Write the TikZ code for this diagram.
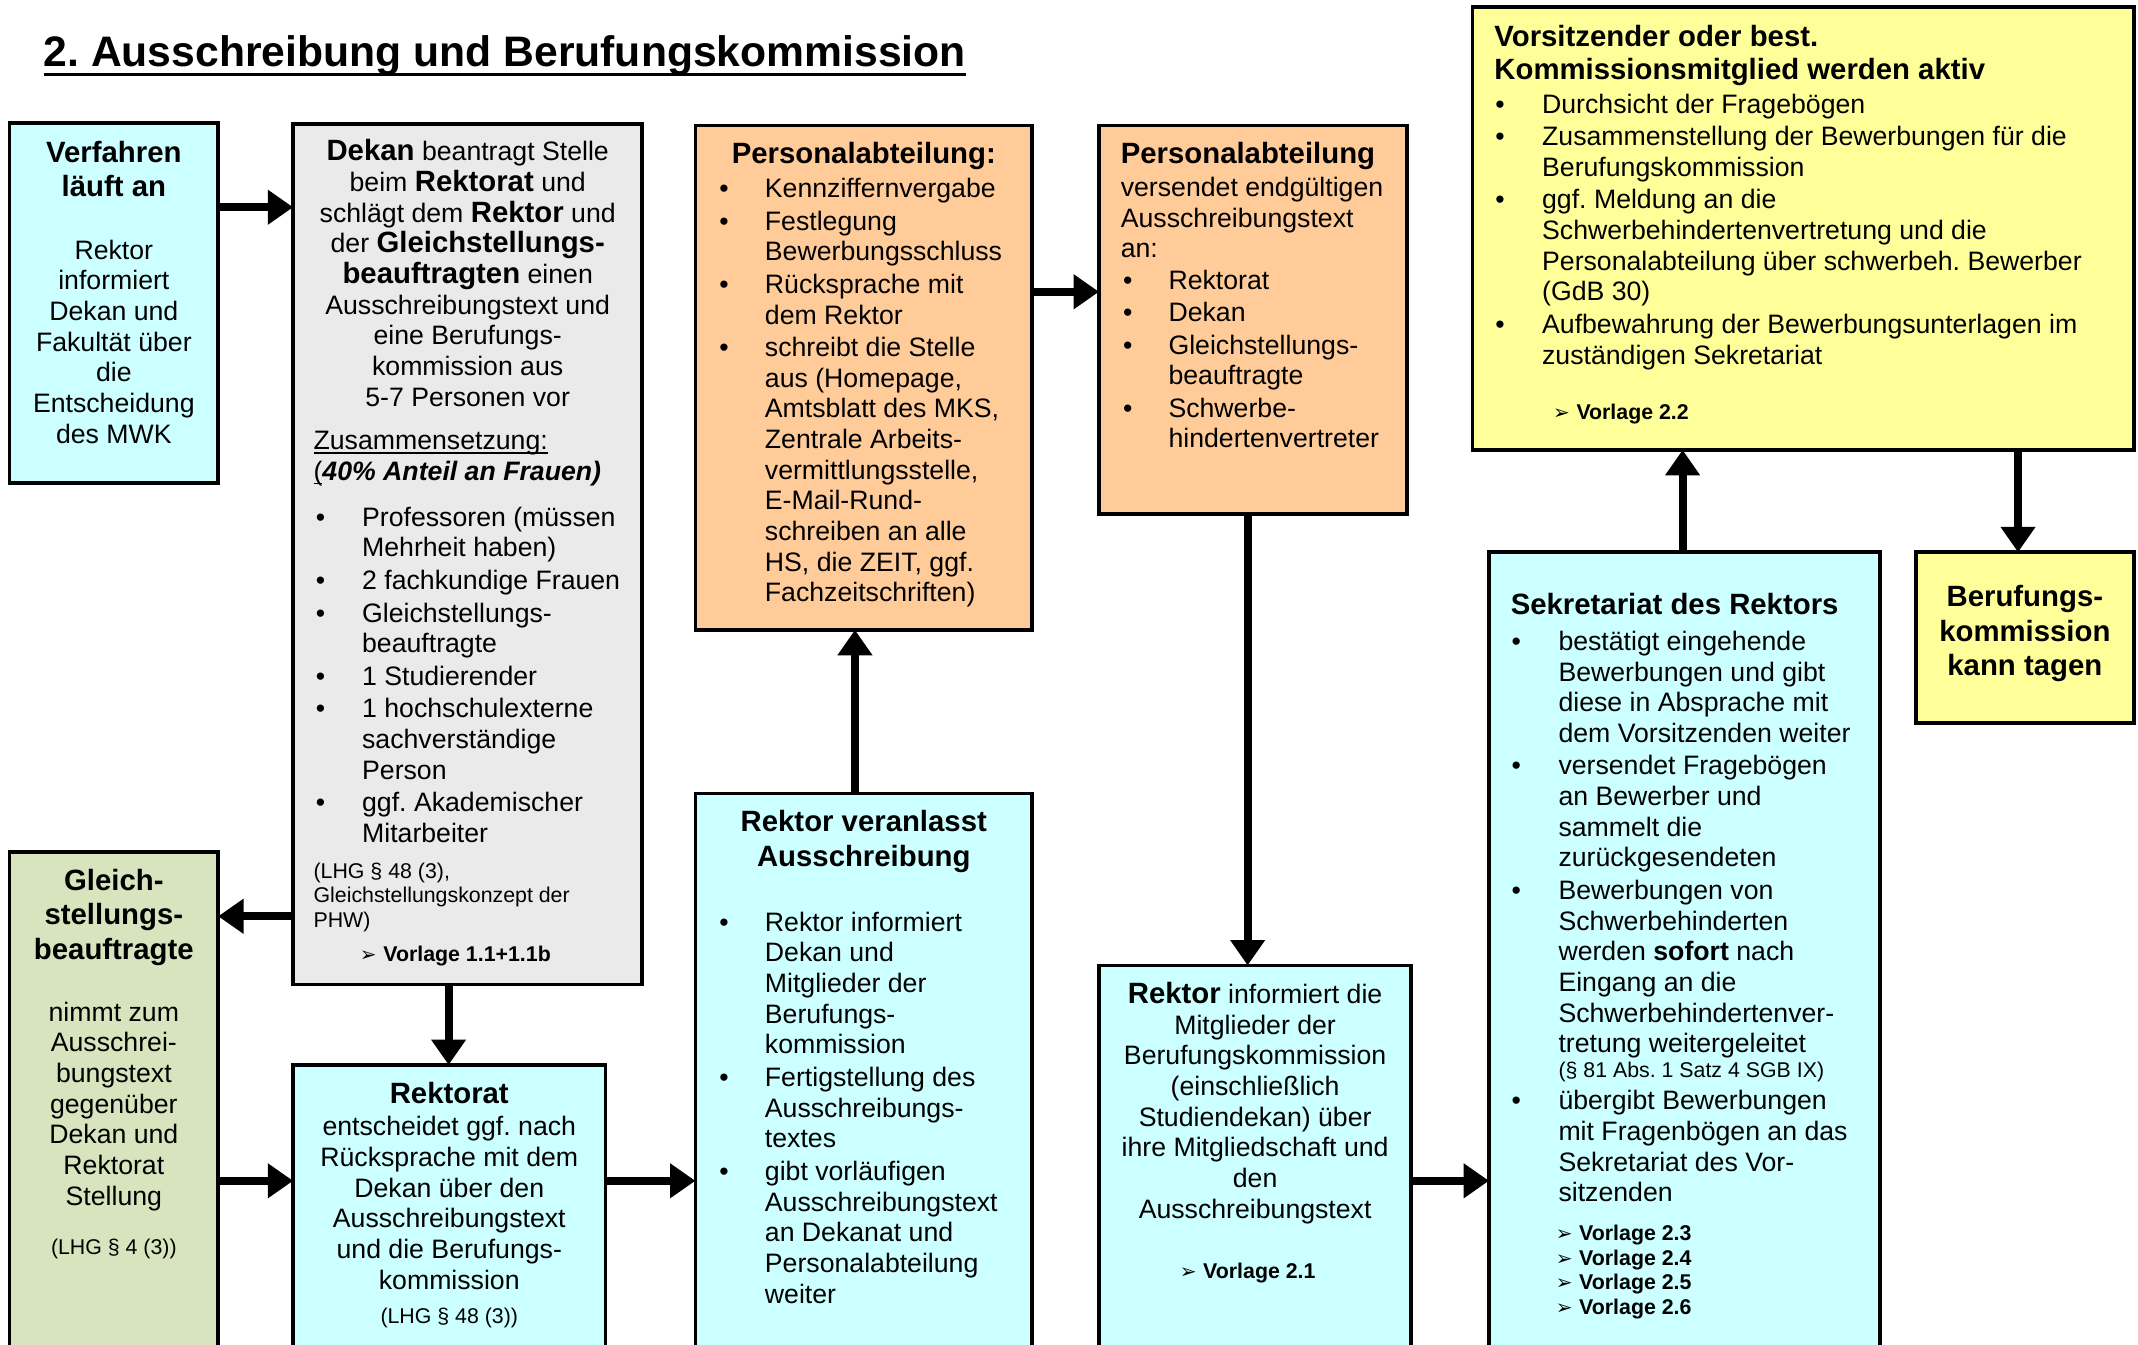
\documentclass[tikz,border=0pt]{standalone}
\usepackage{fontspec}
\setmainfont{Liberation Sans}
\newfontfamily\symfont{DejaVu Sans}
\usetikzlibrary{arrows.meta}
\frenchspacing

% one unit of the drawing grid
\newlength\upx \setlength\upx{0.51131pt}
\newlength\bind

\definecolor{cyanbg}{HTML}{CCFFFF}
\definecolor{graybg}{HTML}{EAEAEA}
\definecolor{orangebg}{HTML}{FFCC99}
\definecolor{greenbg}{HTML}{D7E4BD}
\definecolor{yellowbg}{HTML}{FFFF99}

\newcommand\fbody{\fontsize{10}{11.5}\selectfont}
\newcommand\fhead{\fontsize{11}{12.9}\selectfont\bfseries}
\newcommand\fsmall{\fontsize{8}{9.2}\selectfont}
\newcommand\vorl[1]{\leavevmode{\fsmall{\symfont\fontsize{7.5}{9.2}\selectfont ➢}\hspace{2.5pt}\textbf{Vorlage #1}}}
\newcommand\itm{\par\hangindent=\bind\hangafter=1\noindent\makebox[\bind][l]{•}\ignorespaces}
\newcommand\myul[1]{\leavevmode\setbox0\hbox{#1}\rlap{\rule[-1.4pt]{\wd0}{0.5pt}}\box0}

% left aligned block: width, content (\\ keeps the hanging indent of list items)
\newcommand\lblk[2]{\begin{minipage}[t]{#1\upx}\raggedright\let\\\newline\setlength\parskip{0.7pt}#2\end{minipage}}
% centred block
\newcommand\cblk[2]{\begin{minipage}[t]{#1\upx}\centering #2\end{minipage}}

% box node: name, fill, x1, y1, x2, y2
\newcommand\boxnode[6]{%
  \node[box, fill=#2, minimum width={(#5-#3)*\upx}, minimum height={(#6-#4)*\upx}]
    (#1) at (#3,#4) {};}

\tikzset{
  box/.style={draw=black, line width=1.4pt, rectangle, anchor=north west,
    inner sep=0pt, outer sep=0pt},
  txt/.style={inner sep=0pt, outer sep=0pt, text=black},
  arr/.style={line width=3pt, -{Triangle[length=9.5pt,width=12.5pt]}},
}

\begin{document}
\begin{tikzpicture}[x=0.51131pt, y=-0.51131pt]
\useasboundingbox (0,0) rectangle (1568,986);
\clip (0,0) rectangle (1568,986);

% title
\node[txt, anchor=base west] (title) at (32,49)
  {\fontsize{16}{19}\selectfont\bfseries 2. Ausschreibung und Berufungskommission};
\draw[line width=1.1pt] ([yshift=-2.9pt]title.base west) -- ([yshift=-2.9pt]title.base east);

% boxes
\boxnode{V}{cyanbg}{7}{90}{160}{354}
\boxnode{D}{graybg}{215}{91}{471}{722}
\boxnode{G}{greenbg}{7}{625}{160}{1000}
\boxnode{R}{cyanbg}{215}{781}{444}{1000}
\boxnode{P1}{orangebg}{510}{92}{757}{462}
\boxnode{RV}{cyanbg}{510}{582}{757}{1000}
\boxnode{P2}{orangebg}{806}{92}{1032}{377}
\boxnode{RI}{cyanbg}{806}{708}{1035}{1000}
\boxnode{S}{cyanbg}{1092}{405}{1379}{1000}
\boxnode{VO}{yellowbg}{1080}{5}{1565}{330}
\boxnode{BK}{yellowbg}{1405}{405}{1565}{530}

% connectors
\draw[arr] (V.east |- 0,152) -- (D.west |- 0,152);
\draw[arr] (D.west |- 0,672) -- (G.east |- 0,672);
\draw[arr] (D.south -| 329,0) -- (R.north -| 329,0);
\draw[arr] (G.east |- 0,866) -- (R.west |- 0,866);
\draw[arr] (R.east |- 0,866) -- (RV.west |- 0,866);
\draw[arr] (RV.north -| 627,0) -- (P1.south -| 627,0);
\draw[arr] (P1.east |- 0,214) -- (P2.west |- 0,214);
\draw[arr] (P2.south -| 915,0) -- (RI.north -| 915,0);
\draw[arr] (RI.east |- 0,866) -- (S.west |- 0,866);
\draw[arr] (S.north -| 1234,0) -- (VO.south -| 1234,0);
\draw[arr] (VO.south -| 1480,0) -- (BK.north -| 1480,0);

% Verfahren laeuft an
\node[txt, anchor=base] (tV1) at (83.5,119) {\cblk{150}{\fhead Verfahren\\läuft an}};
\node[txt, anchor=base] (tV2) at (83.5,190) {\cblk{150}{\fbody Rektor\\informiert\\Dekan und\\Fakultät über\\die\\Entscheidung\\des MWK}};

% Dekan
\node[txt, anchor=base] (tD1) at (343,118) {\cblk{250}{\fbody
  {\fhead Dekan} beantragt Stelle\\beim {\fhead Rektorat} und\\schlägt dem {\fhead Rektor} und\\
  der {\fhead Gleichstellungs-}\\{\fhead beauftragten} einen\\Ausschreibungstext und\\
  eine Berufungs-\\kommission aus\\5-7 Personen vor}};
\node[txt, anchor=base west] (tD2) at (230,330) {\lblk{230}{\fbody
  \myul{Zusammensetzung:}\\\myul{(}\textbf{\textit{40\% Anteil an Frauen)}}}};
\setlength\bind{34\upx}
\node[txt, anchor=base west] (tD3) at (231.6,386) {\lblk{238}{\fbody
  \itm Professoren (müssen\\Mehrheit haben)
  \itm 2 fachkundige Frauen
  \itm Gleichstellungs-\\beauftragte
  \itm 1 Studierender
  \itm 1 hochschulexterne\\sachverständige\\Person
  \itm ggf. Akademischer\\Mitarbeiter}};
\node[txt, anchor=base west] (tD4) at (230,644) {\lblk{235}{\fsmall
  (LHG § 48 (3),\\Gleichstellungskonzept der\\PHW)}};
\node[txt, anchor=base west] (tD5) at (264,705) {\vorl{1.1+1.1b}};

% Gleichstellungsbeauftragte
\node[txt, anchor=base] (tG1) at (83.5,653) {\cblk{150}{\fhead Gleich-\\stellungs-\\beauftragte}};
\node[txt, anchor=base] (tG2) at (83.5,749) {\cblk{150}{\fbody nimmt zum\\Ausschrei-\\bungstext\\gegenüber\\Dekan und\\Rektorat\\Stellung}};
\node[txt, anchor=base] (tG3) at (83.5,920) {\fsmall (LHG § 4 (3))};

% Rektorat
\node[txt, anchor=base] (tR1) at (329.5,809) {\fhead Rektorat};
\node[txt, anchor=base] (tR2) at (329.5,833) {\cblk{225}{\fbody entscheidet ggf. nach\\Rücksprache mit dem\\Dekan über den\\Ausschreibungstext\\und die Berufungs-\\kommission}};
\node[txt, anchor=base] (tR3) at (329.5,971) {\fsmall (LHG § 48 (3))};

% Personalabteilung (1)
\node[txt, anchor=base] (tP1a) at (633.5,120) {\fhead Personalabteilung:};
\setlength\bind{33.4\upx}
\node[txt, anchor=base west] (tP1b) at (527.6,145) {\lblk{228}{\fbody
  \itm Kennziffernvergabe
  \itm Festlegung\\Bewerbungsschluss
  \itm Rücksprache mit\\dem Rektor
  \itm schreibt die Stelle\\aus (Homepage,\\Amtsblatt des MKS,\\Zentrale Arbeits-\\vermittlungsstelle,\\E-Mail-Rund-\\schreiben an alle\\HS, die ZEIT, ggf.\\Fachzeitschriften)}};

% Rektor veranlasst Ausschreibung
\node[txt, anchor=base] (tRV1) at (633.5,610) {\cblk{240}{\fhead Rektor veranlasst\\Ausschreibung}};
\node[txt, anchor=base west] (tRV2) at (527.6,683) {\lblk{228}{\fbody
  \itm Rektor informiert\\Dekan und\\Mitglieder der\\Berufungs-\\kommission
  \itm Fertigstellung des\\Ausschreibungs-\\textes
  \itm gibt vorläufigen\\Ausschreibungstext\\an Dekanat und\\Personalabteilung\\weiter}};

% Personalabteilung (2)
\node[txt, anchor=base west] (tP2a) at (822,120) {\fhead Personalabteilung};
\node[txt, anchor=base west] (tP2b) at (822,144) {\lblk{210}{\fbody
  versendet endgültigen\\Ausschreibungstext\\an:}};
\setlength\bind{33.4\upx}
\node[txt, anchor=base west] (tP2c) at (823.6,212) {\lblk{205}{\fbody
  \itm Rektorat
  \itm Dekan
  \itm Gleichstellungs-\\beauftragte
  \itm Schwerbe-\\hindertenvertreter}};

% Rektor informiert
\node[txt, anchor=base] (tRI1) at (920.5,736) {\cblk{225}{\fbody
  {\fhead Rektor} informiert die\\Mitglieder der\\Berufungskommission\\(einschließlich\\
  Studiendekan) über\\ihre Mitgliedschaft und\\den\\Ausschreibungstext}};
\node[txt, anchor=base] (tRI2) at (915,938) {\vorl{2.1}};

% Sekretariat des Rektors
\node[txt, anchor=base west] (tS1) at (1108,451) {\fhead Sekretariat des Rektors};
\setlength\bind{34.4\upx}
\node[txt, anchor=base west] (tS2) at (1108.6,477) {\lblk{265}{\fbody
  \itm bestätigt eingehende\\Bewerbungen und gibt\\diese in Absprache mit\\dem Vorsitzenden weiter
  \itm versendet Fragebögen\\an Bewerber und\\sammelt die\\zurückgesendeten
  \itm Bewerbungen von\\Schwerbehinderten\\werden \textbf{sofort} nach\\Eingang an die\\
    Schwerbehindertenver-\\tretung weitergeleitet\vadjust{\vskip-2.3pt}\\{\fsmall(§ 81 Abs. 1 Satz 4 SGB IX)}
  \itm übergibt Bewerbungen\\mit Fragenbögen an das\\Sekretariat des Vor-\\sitzenden}};
\node[txt, anchor=base west] (tS3) at (1141,910) {\lblk{150}{\fsmall
  \vorl{2.3}\\\vorl{2.4}\\\vorl{2.5}\\\vorl{2.6}}};

% Vorsitzender
\node[txt, anchor=base west] (tVO1) at (1096,34) {\lblk{460}{\fontsize{11}{12.4}\selectfont\bfseries
  Vorsitzender oder best.\\Kommissionsmitglied werden aktiv}};
\setlength\bind{34.4\upx}
\node[txt, anchor=base west] (tVO2) at (1096.6,83) {\lblk{460}{\fbody
  \itm Durchsicht der Fragebögen
  \itm Zusammenstellung der Bewerbungen für die\\Berufungskommission
  \itm ggf. Meldung an die\\Schwerbehindertenvertretung und die\\Personalabteilung über schwerbeh. Bewerber\\(GdB 30)
  \itm Aufbewahrung der Bewerbungsunterlagen im\\zuständigen Sekretariat}};
\node[txt, anchor=base west] (tVO3) at (1139,308) {\vorl{2.2}};

% Berufungskommission kann tagen
\node[txt, anchor=base] (tBK) at (1485,445) {\cblk{155}{\fhead Berufungs-\\kommission\\kann tagen}};
\end{tikzpicture}
\end{document}
